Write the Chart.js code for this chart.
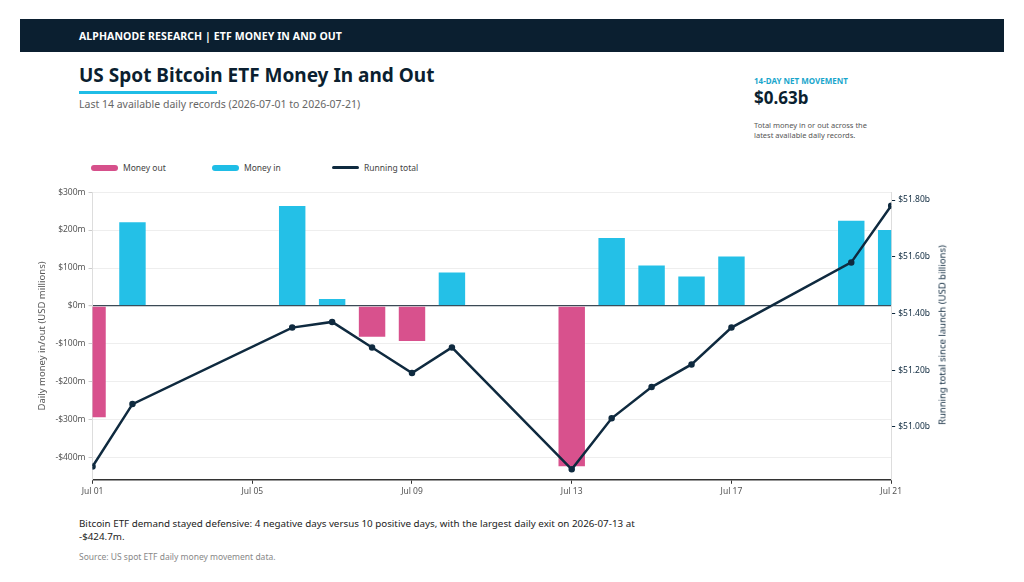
<!DOCTYPE html>
<html>
<head>
<meta charset="utf-8">
<script src="https://cdn.jsdelivr.net/npm/chart.js@4.4.1/dist/chart.umd.min.js"></script>
<style>
  body { margin: 0; width: 1024px; height: 582px; background: #fff; font-family: "Noto Sans", sans-serif; position: relative; overflow: hidden; }
  .bar { position: absolute; left: 20px; top: 19px; width: 984px; height: 33px; background: #0b1f30; }
  .bar span { position: absolute; left: 59px; top: 10px; color: #fff; font-size: 10.5px; font-weight: 700; letter-spacing: 0.1px; }
  .title { position: absolute; left: 79px; top: 62px; font-size: 19px; font-weight: 700; color: #0b1f30; }
  .uline { position: absolute; left: 79px; top: 91px; width: 138px; height: 3px; background: #1fbde6; }
  .sub { position: absolute; left: 79px; top: 97px; font-size: 10.5px; color: #666; }
  .kpi-h { position: absolute; left: 754px; top: 75px; font-size: 8px; font-weight: 700; color: #1aa6cc; }
  .kpi-v { position: absolute; left: 754px; top: 86px; font-size: 17px; font-weight: 700; color: #0b1f30; }
  .kpi-t { position: absolute; left: 754px; top: 121px; font-size: 7.5px; line-height: 9.5px; color: #555; }
  .legend { position: absolute; left: 91px; top: 162px; font-size: 8.5px; color: #444; }
  .legend .it { position: absolute; top: 0; white-space: nowrap; }
  .legend i { display: inline-block; width: 27px; height: 6px; border-radius: 3px; margin-right: 5px; vertical-align: middle; position: relative; top: -1px; }
  .wrap { position: absolute; left: 28px; top: 184px; width: 910px; height: 316px; }
  .rtitle { position: absolute; left: 942px; top: 335px; transform: translate(-50%, -50%) rotate(-90deg); white-space: nowrap; font-size: 9.5px; color: #0f2a3f; }
  .note { position: absolute; left: 79px; top: 517px; font-size: 9.8px; line-height: 13px; color: #222; width: 880px; }
  .src { position: absolute; left: 79px; top: 551px; font-size: 8.5px; color: #888; }
</style>
</head>
<body>
<div class="bar"><span>ALPHANODE RESEARCH | ETF MONEY IN AND OUT</span></div>
<div class="title">US Spot Bitcoin ETF Money In and Out</div>
<div class="uline"></div>
<div class="sub">Last 14 available daily records (2026-07-01 to 2026-07-21)</div>
<div class="kpi-h">14-DAY NET MOVEMENT</div>
<div class="kpi-v">$0.63b</div>
<div class="kpi-t">Total money in or out across the<br>latest available daily records.</div>
<div class="legend">
  <div class="it" style="left:0"><i style="background:#d6508b"></i>Money out</div>
  <div class="it" style="left:121px"><i style="background:#1fbde6"></i>Money in</div>
  <div class="it" style="left:241px"><i style="background:#0f2a3f;height:3px;border-radius:2px"></i>Running total</div>
</div>
<div class="wrap"><canvas id="etfChart"></canvas></div>
<div class="rtitle">Running total since launch (USD billions)</div>
<div class="note">Bitcoin ETF demand stayed defensive: 4 negative days versus 10 positive days, with the largest daily exit on 2026-07-13 at<br>-$424.7m.</div>
<div class="src">Source: US spot ETF daily money movement data.</div>
<script>
// day of July for each record
const days = [1, 2, 6, 7, 8, 9, 10, 13, 14, 15, 16, 17, 20, 21];
// daily money in/out, USD millions
const flows = [-296, 223, 266, 21, -84, -95, 91, -424.7, 182, 109, 80, 133, 227, 203];
// running total since launch, USD billions
const runningTotal = [50.86, 51.08, 51.35, 51.37, 51.28, 51.19, 51.28, 50.85, 51.03, 51.14, 51.22, 51.35, 51.58, 51.78];
const dayTicks = [1, 5, 9, 13, 17, 21];
const flowTicks = [-400, -300, -200, -100, 0, 100, 200, 300];
const totalTicks = [51.0, 51.2, 51.4, 51.6, 51.8];

const outData = [];
const inData = [];
days.forEach(function (d, i) {
    if (flows[i] < 0) outData.push({ x: d, y: flows[i] });
    else inData.push({ x: d, y: flows[i] });
});
const totalData = days.map(function (d, i) { return { x: d, y: runningTotal[i] }; });

function fixTicks(list) {
    return function (axis) {
        axis.ticks = list.map(function (v) { return { value: v }; });
    };
}

const fontFam = '"Noto Sans", sans-serif';
const ctx = document.getElementById('etfChart').getContext('2d');
const etfChart = new Chart(ctx, {
    type: 'bar',
    data: {
        datasets: [{
            type: 'line',
            label: 'Running total',
            data: totalData,
            yAxisID: 'y1',
            borderColor: '#0f2a3f',
            backgroundColor: '#0f2a3f',
            borderWidth: 2.5,
            pointRadius: 2,
            pointHoverRadius: 3,
            tension: 0,
            order: 0
        }, {
            label: 'Money out',
            data: outData,
            yAxisID: 'y',
            backgroundColor: 'rgba(214,72,135,0.95)',
            borderColor: 'rgba(255,255,255,0.35)',
            borderWidth: 1,
            grouped: false,
            barPercentage: 0.89,
            categoryPercentage: 0.8,
            order: 1
        }, {
            label: 'Money in',
            data: inData,
            yAxisID: 'y',
            backgroundColor: 'rgba(24,189,230,0.95)',
            borderColor: 'rgba(255,255,255,0.35)',
            borderWidth: 1,
            grouped: false,
            barPercentage: 0.89,
            categoryPercentage: 0.8,
            order: 1
        }]
    },
    options: {
        responsive: true,
        maintainAspectRatio: false,
        animation: false,
        layout: { padding: { top: 4, right: 5, left: 5, bottom: 0 } },
        plugins: {
            legend: { display: false },
            tooltip: { enabled: false }
        },
        scales: {
            x: {
                type: 'linear',
                offset: false,
                min: 1,
                max: 21,
                afterBuildTicks: fixTicks(dayTicks),
                ticks: {
                    color: '#555',
                    font: { family: fontFam, size: 8.5 },
                    maxRotation: 0,
                    autoSkip: false,
                    callback: function (v) { return 'Jul ' + String(v).padStart(2, '0'); }
                },
                grid: { offset: false, drawOnChartArea: false, color: '#333', tickColor: '#333', tickLength: 4 },
                border: { color: '#333', width: 1.5 }
            },
            y: {
                position: 'left',
                min: -458,
                max: 300,
                afterBuildTicks: fixTicks(flowTicks),
                ticks: {
                    color: '#555',
                    font: { family: fontFam, size: 8.5 },
                    callback: function (v) { return (v < 0 ? '-$' : '$') + Math.abs(v) + 'm'; }
                },
                grid: {
                    color: function (c) { return c.tick && c.tick.value === 0 ? '#3b4955' : '#eeeeee'; },
                    lineWidth: function (c) { return c.tick && c.tick.value === 0 ? 1.2 : 1; },
                    tickColor: '#cccccc',
                    tickLength: 4
                },
                border: { color: '#dddddd' },
                title: {
                    display: true,
                    text: 'Daily money in/out (USD millions)',
                    color: '#555',
                    font: { family: fontFam, size: 9.5 }
                }
            },
            y1: {
                position: 'right',
                min: 50.813,
                max: 51.828,
                afterBuildTicks: fixTicks(totalTicks),
                ticks: {
                    color: '#0f2a3f',
                    font: { family: fontFam, size: 8.5 },
                    callback: function (v) { return '$' + v.toFixed(2) + 'b'; }
                },
                grid: { drawOnChartArea: false, color: '#0f2a3f', tickLength: 4 },
                border: { color: '#dddddd' }
            }
        }
    }
});
</script>
</body>
</html>
